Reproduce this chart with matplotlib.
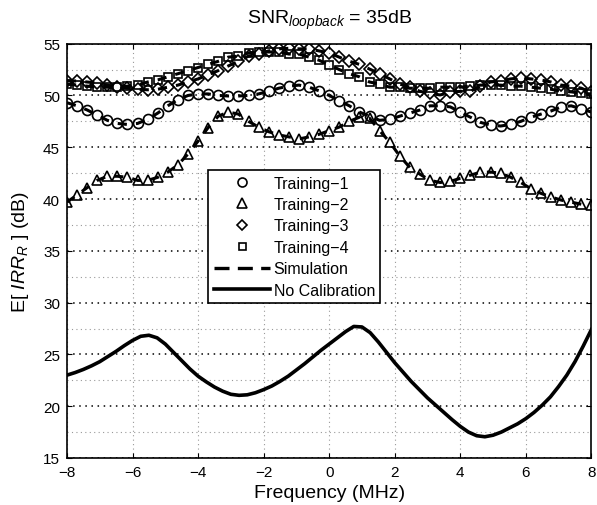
import matplotlib.pyplot as plt
import numpy as np
from matplotlib.ticker import MultipleLocator

plt.rcParams['font.family'] = ['Liberation Sans', 'DejaVu Sans']
plt.rcParams['mathtext.fontset'] = 'custom'
plt.rcParams['mathtext.rm'] = 'Liberation Sans'
plt.rcParams['mathtext.it'] = 'Liberation Sans:italic'

# measured points (53 per training run, -8..8 MHz)
freq = np.linspace(-8, 8, 53)
training1 = [49.3, 49.0, 48.6, 48.1, 47.6, 47.3, 47.2, 47.3, 47.7, 48.3,
             49.0, 49.6, 50.0, 50.15, 50.15, 50.0, 49.95, 49.95, 50.0, 50.15,
             50.4, 50.7, 50.9, 51.0, 50.8, 50.45, 50.0, 49.5, 49.0, 48.4,
             48.0, 47.6, 47.7, 48.0, 48.3, 48.6, 49.0, 49.0, 48.9, 48.4,
             47.9, 47.4, 47.15, 47.05, 47.2, 47.5, 47.9, 48.2, 48.5, 48.9,
             49.0, 48.7, 48.4]
training2 = [39.7, 40.4, 41.1, 41.8, 42.2, 42.2, 42.1, 41.8, 41.8, 42.1,
             42.6, 43.3, 44.35, 45.6, 46.9, 48.0, 48.4, 48.2, 47.5, 46.95,
             46.5, 46.2, 46.0, 45.8, 46.0, 46.25, 46.6, 46.95, 47.5, 47.9,
             47.8, 46.6, 45.5, 44.15, 43.05, 42.4, 41.8, 41.6, 41.7, 42.0,
             42.3, 42.6, 42.6, 42.5, 42.1, 41.6, 41.0, 40.55, 40.2, 39.9,
             39.7, 39.5, 39.4]
training3 = [51.4, 51.4, 51.3, 51.2, 51.0, 50.8, 50.7, 50.6, 50.55, 50.6,
             50.8, 51.0, 51.3, 51.6, 52.0, 52.4, 52.85, 53.3, 53.8, 54.0,
             54.3, 54.5, 54.55, 54.5, 54.5, 54.3, 54.1, 53.7, 53.3, 53.0,
             52.55, 52.1, 51.6, 51.1, 50.8, 50.4, 50.2, 50.05, 50.3, 50.4,
             50.4, 50.9, 51.3, 51.4, 51.6, 51.7, 51.6, 51.5, 51.3, 51.0,
             50.9, 50.7, 50.3]
training4 = [51.1, 51.0, 50.9, 50.8, 50.8, 50.8, 50.9, 51.0, 51.3, 51.5,
             51.8, 52.1, 52.4, 52.7, 53.0, 53.3, 53.7, 53.8, 54.1, 54.2,
             54.2, 54.2, 54.0, 54.0, 53.7, 53.4, 52.95, 52.5, 52.1, 51.8,
             51.3, 51.1, 50.8, 50.8, 50.7, 50.7, 50.7, 50.8, 50.8, 50.8,
             50.9, 51.0, 51.0, 51.0, 50.9, 50.9, 50.8, 50.7, 50.6, 50.4,
             50.35, 50.2, 50.15]

# uncalibrated curve, read every 0.25 MHz
freq_nocal = np.linspace(-8, 8, 65)
no_cal = [23.0, 23.25, 23.55, 23.9, 24.3, 24.8, 25.3, 25.85, 26.35, 26.75,
          26.85, 26.6, 26.0, 25.2, 24.4, 23.6, 22.9, 22.35, 21.85, 21.45,
          21.15, 21.05, 21.1, 21.3, 21.6, 21.95, 22.4, 22.9, 23.5, 24.1,
          24.75, 25.4, 26.0, 26.6, 27.2, 27.7, 27.65, 27.1, 26.2, 25.2,
          24.2, 23.3, 22.4, 21.6, 20.8, 20.1, 19.4, 18.7, 18.05, 17.5,
          17.15, 17.05, 17.2, 17.5, 17.9, 18.3, 18.8, 19.4, 20.1, 20.9,
          21.9, 23.0, 24.3, 25.8, 27.4]

fig = plt.figure(figsize=(5.97, 5.06), dpi=100)
ax = fig.add_axes([0.1122, 0.0929, 0.8784, 0.8188])

trainings = [training1, training2, training3, training4]
markers = ['o', '^', 'D', 's']
msizes = [7.2, 7.8, 5.8, 5.6]
names = ['Training\u22121', 'Training\u22122', 'Training\u22123', 'Training\u22124']

# simulation curves (dashed) under the measured markers
for vals in trainings:
    ax.plot(freq, vals, color='black', ls=(0, (3, 3)), lw=2.2)
for vals, m, ms, name in zip(trainings, markers, msizes, names):
    ax.plot(freq, vals, ls='none', marker=m, ms=ms,
            mfc='none', mec='black', mew=1.2, label=name)

ax.plot([], [], color='black', ls=(0, (4.5, 2.5)), lw=2.4, label='Simulation')
ax.plot(freq_nocal, no_cal, color='black', lw=2.6, label='No Calibration')

ax.set_xlim(-8, 8)
ax.set_ylim(15, 55)
ax.set_xticks(np.arange(-8, 9, 2))
ax.set_yticks(np.arange(15, 56, 5))
ax.yaxis.set_minor_locator(MultipleLocator(2.5))
ax.set_xticklabels([str(v).replace('-', '\u2212') for v in range(-8, 9, 2)])

ax.grid(axis='y', which='major', color='black', ls=(0, (1, 3)), lw=1.1)
ax.grid(axis='y', which='minor', color='#999999', ls=(0, (1, 3)), lw=0.8)
ax.grid(axis='x', which='major', color='#999999', ls=(0, (1, 3)), lw=0.8)

ax.tick_params(which='both', direction='in', top=True, right=True, labelsize=11, pad=5)
ax.tick_params(which='minor', length=0)
for s in ax.spines.values():
    s.set_linewidth(1.2)

ax.set_xlabel('Frequency (MHz)', fontsize=14, labelpad=4)
ax.set_ylabel(r'E[ $\mathit{IRR}_{\mathit{R}}$ ] (dB)', fontsize=14, labelpad=9)
ax.set_title(r'SNR$_{\mathit{loopback}}$ = 35dB', fontsize=14, pad=15)

leg = ax.legend(loc='upper left', bbox_to_anchor=(0.269, 0.695), fontsize=11.5,
                frameon=True, fancybox=False, edgecolor='black', framealpha=1,
                handlelength=3.5, borderpad=0.35, labelspacing=0.4,
                handletextpad=0.25, borderaxespad=0, markerscale=0.9)
leg.get_frame().set_linewidth(1.2)

plt.savefig('out.png', dpi=100)
